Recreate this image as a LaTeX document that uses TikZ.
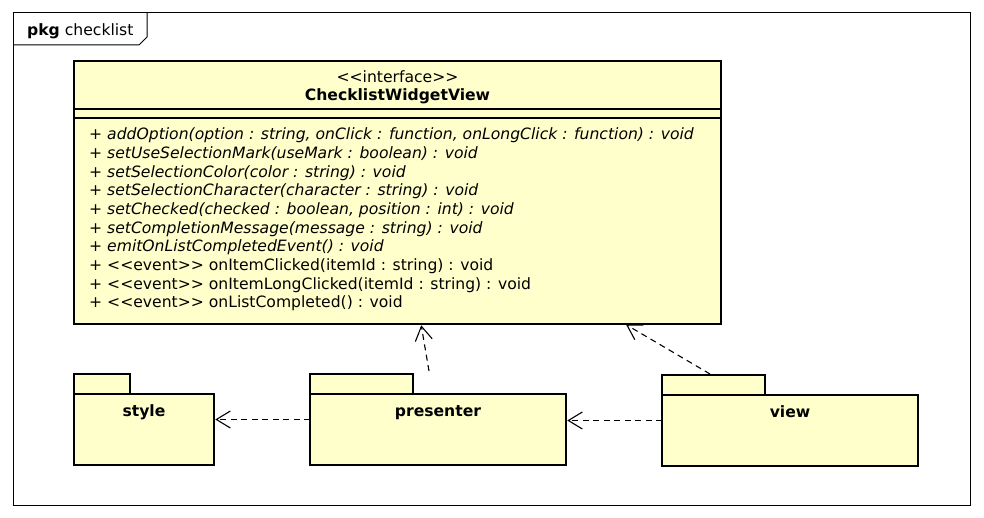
\documentclass[tikz,border=0pt]{standalone}
\usepackage{fontspec}
\newfontfamily\dv{DejaVu Sans}
\usetikzlibrary{arrows.meta}
\definecolor{ylw}{HTML}{FFFFCC}
\tikzset{
  txt/.style={inner sep=0pt, font=\dv\fontsize{15.6}{18.65}\selectfont},
  meth/.style={txt, anchor=base west},
  absm/.style={meth, font=\dv\fontsize{15.6}{18.65}\selectfont\itshape},
  pkgbody/.style={draw, line width=2.6pt, fill=ylw, anchor=north west, inner sep=0pt, outer sep=0pt},
  pkgtab/.style={draw, line width=2.6pt, fill=ylw},
  pkglabel/.style={txt, anchor=base, font=\dv\fontsize{15.6}{18.65}\selectfont\bfseries},
  dep/.style={draw, line width=1.1pt, dash pattern=on 6pt off 4.5pt, shorten >=1.3pt, -{Straight Barb[length=14pt,width=17pt,line width=1.1pt]}},
}
\begin{document}
\begin{tikzpicture}[x=1pt,y=-1pt]
\useasboundingbox (0,0) rectangle (984,518);
% frame
\node[draw, line width=1pt, anchor=north west, minimum width=957pt, minimum height=492pt, inner sep=0pt, outer sep=0pt] (frame) at (13,13) {};
\draw[line width=1pt] (13,45) -- (139,45) -- (147,37) -- (147,13);
\node[txt, anchor=base west] (pkg) at (27,36) {\textbf{pkg} checklist};
% class
\node[draw, line width=2.6pt, fill=ylw, anchor=north west, minimum width=647pt, minimum height=263pt, inner sep=0pt, outer sep=0pt] (cls) at (74,61) {};
\draw[line width=1.1pt] ([yshift=-48pt]cls.north west) -- ([yshift=-48pt]cls.north east);
\draw[line width=1.1pt] ([yshift=-57pt]cls.north west) -- ([yshift=-57pt]cls.north east);
\node[txt, anchor=base] (stereo) at (397.5,82.5) {<<interface>>};
\node[txt, anchor=base, font=\dv\fontsize{15.6}{18.65}\selectfont\bfseries] (cname) at (397.5,101) {ChecklistWidgetView};
\node[absm] (m1) at (89,140) {+ addOption(option : string, onClick : function, onLongClick : function) : void};
\node[absm] (m2) at (89,158.65) {+ setUseSelectionMark(useMark : boolean) : void};
\node[absm] (m3) at (89,177.3) {+ setSelectionColor(color : string) : void};
\node[absm] (m4) at (89,195.95) {+ setSelectionCharacter(character : string) : void};
\node[absm] (m5) at (89,214.6) {+ setChecked(checked : boolean, position : int) : void};
\node[absm] (m6) at (89,233.25) {+ setCompletionMessage(message : string) : void};
\node[absm] (m7) at (89,251.9) {+ emitOnListCompletedEvent() : void};
\node[meth] (m8) at (89,270.55) {+ <<event>> onItemClicked(itemId : string) : void};
\node[meth] (m9) at (89,289.2) {+ <<event>> onItemLongClicked(itemId : string) : void};
\node[meth] (m10) at (89,307.85) {+ <<event>> onListCompleted() : void};
% packages
\draw[pkgtab] (74,394) rectangle (130,374);
\node[pkgbody, minimum width=140pt, minimum height=71pt] (style) at (74,394) {};
\node[pkglabel] (stylel) at (144,416) {style};
\draw[pkgtab] (310,394) rectangle (413,374);
\node[pkgbody, minimum width=256pt, minimum height=71pt] (presenter) at (310,394) {};
\node[pkglabel] (presenterl) at (438,416) {presenter};
\draw[pkgtab] (662,395) rectangle (765,375);
\node[pkgbody, minimum width=256pt, minimum height=71pt] (view) at (662,395) {};
\node[pkglabel] (viewl) at (790,417) {view};
% dependencies
\coordinate (pa) at ([yshift=10pt]presenter.west);
\draw[dep] (pa) -- (pa -| style.east);
\coordinate (va) at ([yshift=10pt]view.west);
\draw[dep] (va) -- (va -| presenter.east);
\coordinate (pt) at (429,371);
\draw[dep] (pt) -- ([xshift=347pt]cls.south west);
\coordinate (vt) at (710,374);
\draw[dep] (vt) -- ([xshift=551pt]cls.south west);
\end{tikzpicture}
\end{document}
